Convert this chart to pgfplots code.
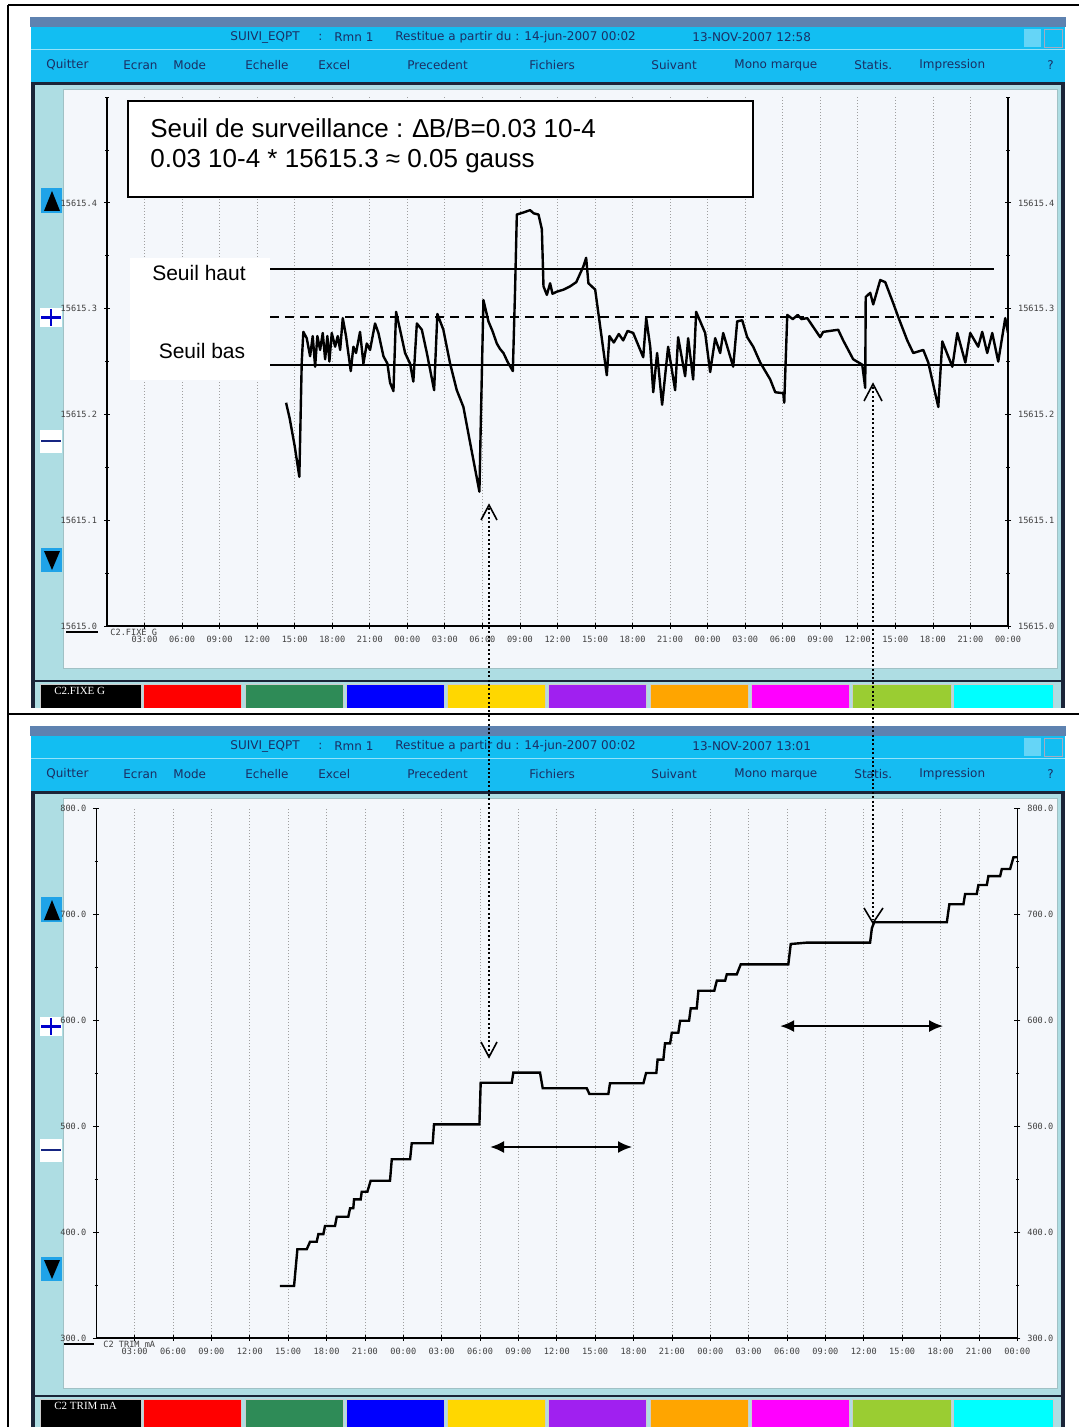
\documentclass[border=0pt]{standalone}
\usepackage{fontspec}
\setmainfont{Liberation Sans}
\setsansfont{DejaVu Sans}
\setmonofont{DejaVu Sans Mono}
\newfontfamily\serifui{Liberation Serif}
\usepackage{pgfplots}
\pgfplotsset{compat=1.18}
\usetikzlibrary{arrows.meta}

\definecolor{winblue}{HTML}{5E82B0}
\definecolor{titlecyan}{HTML}{12BEF2}
\definecolor{menucyan}{HTML}{16BCF2}
\definecolor{navytxt}{HTML}{1B2E63}
\definecolor{panelcyan}{HTML}{AEDDE3}
\definecolor{plotbg}{HTML}{F4F7FB}
\definecolor{btnblue}{HTML}{1FA3E8}
\definecolor{framedark}{HTML}{1A2438}
\definecolor{cbred}{HTML}{FF0000}
\definecolor{cbblue}{HTML}{0000FF}
\definecolor{cbpurple}{HTML}{A020F0}
\definecolor{cbgreen}{HTML}{2E8B57}
\definecolor{cbyellow}{HTML}{FFD700}
\definecolor{cbyg}{HTML}{9ACD32}
\definecolor{cborange}{HTML}{FFA500}
\definecolor{cbmagenta}{HTML}{FF00FF}
\definecolor{cbcyan}{HTML}{00FFFF}

\newcommand{\uifont}{\sffamily\fontsize{6}{7}\selectfont\color{navytxt}}

\newcommand{\header}[1]{%
  \fill[winblue] (30,17) rectangle (1066,27);
  \fill[titlecyan] (31,27) rectangle (1065,49);
  \fill[menucyan] (31,50) rectangle (1065,82);
  \draw[white!55!titlecyan, line width=0.6pt] (31,49.5) -- (1065,49.5);
  \fill[framedark] (31,82) rectangle (1065,85);
  \fill[titlecyan!65!white] (1024,29) rectangle (1041,47);
  \draw[navytxt!40, line width=0.3pt] (1044,29) rectangle (1062,47);
  \node[anchor=west, inner sep=0pt, font=\uifont] at (230,37.5) {SUIVI\_EQPT};
  \node[anchor=west, inner sep=0pt, font=\uifont] at (318,37.5) {:};
  \node[anchor=west, inner sep=0pt, font=\uifont] at (334,37.5) {Rmn 1};
  \node[anchor=west, inner sep=0pt, font=\uifont] at (395,37.5) {Restitue a partir du : 14-jun-2007 00:02};
  \node[anchor=west, inner sep=0pt, font=\uifont] at (692,37.5) {#1};
  \node[anchor=west, inner sep=0pt, font=\uifont] at (46,65) {Quitter};
  \node[anchor=west, inner sep=0pt, font=\uifont] at (123,65) {Ecran};
  \node[anchor=west, inner sep=0pt, font=\uifont] at (173,65) {Mode};
  \node[anchor=west, inner sep=0pt, font=\uifont] at (245,65) {Echelle};
  \node[anchor=west, inner sep=0pt, font=\uifont] at (318,65) {Excel};
  \node[anchor=west, inner sep=0pt, font=\uifont] at (407,65) {Precedent};
  \node[anchor=west, inner sep=0pt, font=\uifont] at (529,65) {Fichiers};
  \node[anchor=west, inner sep=0pt, font=\uifont] at (651,65) {Suivant};
  \node[anchor=west, inner sep=0pt, font=\uifont] at (734,65) {Mono marque};
  \node[anchor=west, inner sep=0pt, font=\uifont] at (854,65) {Statis.};
  \node[anchor=west, inner sep=0pt, font=\uifont] at (919,65) {Impression};
  \node[anchor=west, inner sep=0pt, font=\uifont] at (1047,65) {?};
}

% #1 white bottom, #2 dark line y, #3 colour bar top, #4 colour bar bottom, #5 label
\newcommand{\bodyui}[5]{%
  \fill[panelcyan] (34,85) rectangle (1062,#4);
  \fill[framedark] (31,85) rectangle (35,#4);
  \fill[framedark] (1061,85) rectangle (1065,#4);
  \fill[plotbg] (63,89) rectangle (1057,#1);
  \draw[panelcyan!70!gray, line width=0.4pt] (63,89) rectangle (1057,#1);
  \fill[framedark] (35,#2) rectangle (1061,#2+2);
  \foreach \a/\b/\c in {40/141/black,143/241/cbred,245/343/cbgreen,346/444/cbblue,447/545/cbyellow,548/646/cbpurple,650/748/cborange,751/849/cbmagenta,852/951/cbyg,953/1053/cbcyan}{
    \fill[\c, draw=gray!40, line width=0.4pt] (\a,#3) rectangle (\b,#4);
  }
  \node[anchor=north west, inner sep=0pt, text=white, font=\serifui\fontsize{5.5}{6}\selectfont] at (54,#3+3) {#5};
  % buttons
  \fill[btnblue] (41,188) rectangle (62,213);
  \fill[black] (44,211) -- (52,191) -- (60,211) -- cycle;
  \fill[white] (40,308) rectangle (62,327);
  \draw[blue!80!black, line width=1.3pt] (41,317.5) -- (61,317.5) (51,309) -- (51,326);
  \fill[white] (40,430) rectangle (62,453);
  \draw[navytxt!80!blue, line width=1.3pt] (41,441) -- (61,441);
  \fill[btnblue] (41,548) rectangle (62,572);
  \fill[black] (44,551) -- (60,551) -- (52,570) -- cycle;
}

\pgfplotsset{
  uiaxis/.style={
    scale only axis, anchor=south west,
    xmin=0, xmax=72,
    scaled y ticks=false, scaled x ticks=false,
    tick align=center,
    major tick length=3pt, minor tick length=1.8pt,
    every tick/.style={black, line width=0.4pt},
    tick label style={font=\ttfamily\fontsize{4.3}{5}\selectfont, text=black!75},
    /pgf/number format/assume math mode=true,
    /pgf/number format/fixed,
    /pgf/number format/fixed zerofill,
    /pgf/number format/precision=1,
    /pgf/number format/1000 sep={},
    axis line style={black, line width=0.6pt},
    xtick={3,6,...,72},
    xticklabels={03:00,06:00,09:00,12:00,15:00,18:00,21:00,00:00,03:00,06:00,09:00,12:00,15:00,18:00,21:00,00:00,03:00,06:00,09:00,12:00,15:00,18:00,21:00,00:00},
  },
  uimain/.style={uiaxis, axis x line*=bottom, axis y line*=left,
    xmajorgrids, major grid style={gray!75, dash pattern=on 0.5pt off 1pt, line width=0.4pt}},
  uiright/.style={uiaxis, axis y line*=right, axis x line=none},
}

\begin{document}
\begin{tikzpicture}
\path[use as bounding box] (0,0) rectangle (539.5pt,-713.5pt);

\begin{scope}[x=0.5pt, y=-0.5pt]
  \fill[white] (0,0) rectangle (1079,1427);
  % top window
  \header{13-NOV-2007 12:58}
  \bodyui{668}{680}{684}{708}{C2.FIXE G}
  % bottom window
  \begin{scope}[yshift=-354.5pt]
    \header{13-NOV-2007 13:01}
    \bodyui{679}{686}{690}{718}{C2 TRIM mA}
  \end{scope}
  \fill[white] (0,708) rectangle (1079,726);
  % outer frame
  \draw[black, line width=1pt] (8,5) -- (1079,5);
  \draw[black, line width=1pt] (8,5) -- (8,1427);
  \draw[black, line width=1pt] (8,714) -- (1079,714);
\end{scope}

% ---------- TOP : C2.FIXE G ----------
\begin{axis}[uimain, at={(53.5pt,-313pt)}, width=450.5pt, height=264.5pt,
  ymin=15615, ymax=15615.5,
  ytick={15615,15615.1,15615.2,15615.3,15615.4},
  minor ytick={15615.05,15615.15,15615.25,15615.35,15615.45,15615.5}]
  \addplot[black, line width=1pt] coordinates {(13.03,15615.337) (70.9,15615.337)};
  \addplot[black, line width=0.9pt, dash pattern=on 4.5pt off 3pt] coordinates {(13.03,15615.292) (70.9,15615.292)};
  \addplot[black, line width=1pt] coordinates {(13.03,15615.247) (70.9,15615.247)};
  \addplot[black, line width=1.2pt, line join=round] coordinates {
(14.31,15615.211) (14.6,15615.196) (15.0,15615.170) (15.37,15615.141) (15.56,15615.249) (15.69,15615.278) (15.96,15615.272)
(16.23,15615.255) (16.44,15615.274) (16.63,15615.245) (16.81,15615.274) (17.03,15615.261)
(17.24,15615.277) (17.43,15615.252) (17.61,15615.274) (17.77,15615.250) (17.96,15615.277)
(18.23,15615.264) (18.44,15615.274) (18.63,15615.261) (18.84,15615.291) (19.10,15615.274)
(19.48,15615.241) (19.69,15615.264) (19.90,15615.258) (20.22,15615.278) (20.49,15615.248)
(20.76,15615.267) (21.02,15615.261) (21.42,15615.286) (21.69,15615.277) (22.09,15615.255)
(22.41,15615.248) (22.62,15615.230) (22.89,15615.222) (23.10,15615.297) (23.42,15615.280)
(23.82,15615.258) (24.22,15615.248) (24.48,15615.231) (24.76,15615.286) (25.16,15615.280)
(25.56,15615.258) (26.14,15615.223) (26.40,15615.295) (26.88,15615.280) (27.42,15615.248)
(27.95,15615.223) (28.48,15615.207) (29.02,15615.173) (29.76,15615.127) (29.87,15615.192)
(30.08,15615.308) (30.48,15615.288) (30.8,15615.279) (31.15,15615.267) (31.4,15615.262) (31.68,15615.258) (32.0,15615.250) (32.43,15615.241)
(32.61,15615.318) (32.75,15615.389) (33.3,15615.391) (33.81,15615.393) (34.1,15615.390) (34.48,15615.389) (34.75,15615.375)
(34.88,15615.321) (35.15,15615.313) (35.41,15615.324) (35.6,15615.314) (35.95,15615.316) (36.5,15615.318) (37.01,15615.321)
(37.5,15615.325) (38.07,15615.340) (38.29,15615.348) (38.47,15615.324) (39.01,15615.318) (39.94,15615.237)
(40.15,15615.274) (40.5,15615.268) (40.9,15615.276) (41.25,15615.270) (41.6,15615.279) (42.05,15615.277) (42.85,15615.254) (43.09,15615.291)
(43.41,15615.264) (43.65,15615.221) (43.96,15615.258) (44.36,15615.209) (44.84,15615.264)
(45.40,15615.223) (45.64,15615.273) (46.20,15615.236) (46.44,15615.272) (46.84,15615.233)
(47.08,15615.297) (47.80,15615.277) (48.20,15615.240) (48.60,15615.272) (49.00,15615.258)
(49.24,15615.277) (50.04,15615.245) (50.36,15615.288) (50.76,15615.289) (51.16,15615.273)
(51.64,15615.264) (52.20,15615.249) (53.00,15615.233) (53.40,15615.221) (54.04,15615.220)
(54.12,15615.211) (54.36,15615.294) (54.8,15615.290) (55.2,15615.294) (55.5,15615.290) (55.96,15615.291) (56.99,15615.273) (57.23,15615.278)
(58.43,15615.280) (58.83,15615.270) (59.63,15615.252) (60.35,15615.247) (60.59,15615.225)
(60.63,15615.311) (60.99,15615.315) (61.23,15615.304) (61.79,15615.327) (62.19,15615.325)
(62.83,15615.305) (63.23,15615.292) (63.95,15615.270) (64.43,15615.258) (65.23,15615.261)
(65.63,15615.249) (66.43,15615.207) (66.75,15615.269) (67.55,15615.245) (67.95,15615.277)
(68.59,15615.249) (68.98,15615.277) (69.62,15615.264) (69.94,15615.278) (70.34,15615.258)
(70.74,15615.277) (71.22,15615.250) (71.78,15615.291) (72.00,15615.277)};
\end{axis}
\begin{axis}[uiright, at={(53.5pt,-313pt)}, width=450.5pt, height=264.5pt,
  ymin=15615, ymax=15615.5,
  ytick={15615,15615.1,15615.2,15615.3,15615.4},
  minor ytick={15615.05,15615.15,15615.25,15615.35,15615.45,15615.5}]
  \addplot[draw=none] coordinates {(0,15615.2)};
\end{axis}

% ---------- BOTTOM : C2 TRIM mA ----------
\begin{axis}[uimain, at={(48.15pt,-669pt)}, width=460.5pt, height=265pt,
  ymin=300, ymax=800,
  ytick={300,400,500,600,700,800},
  minor ytick={350,450,550,650,750}]
  \addplot[black, line width=1.2pt] coordinates {
(14.36,349.1) (15.46,349.1) (15.72,383.7) (16.45,383.7) (16.71,390.8) (17.23,390.8)
(17.36,398.0) (17.75,398.0) (17.88,405.7) (18.66,405.7) (18.80,414.4) (19.70,414.4)
(19.84,422.4) (20.09,422.4) (20.15,430.8) (20.67,430.8) (20.75,438.0) (21.19,438.0)
(21.45,448.4) (22.96,448.4) (23.10,468.6) (24.53,468.6) (24.66,483.7) (26.30,483.7)
(26.40,501.6) (29.95,501.6) (30.05,540.8) (32.48,540.8) (32.60,550.3) (34.69,550.3)
(34.90,535.6) (38.34,535.6) (38.55,530.2) (40.03,530.2) (40.16,540.3) (42.77,540.3)
(42.98,550.0) (43.78,550.0) (43.88,562.6) (44.33,562.6) (44.46,578.0) (44.86,578.0)
(44.99,588.0) (45.50,588.0) (45.64,599.3) (46.34,599.3) (46.47,611.0) (46.94,611.0)
(47.07,627.6) (48.31,627.6) (48.51,637.1) (49.16,637.1) (49.29,643.1) (50.07,643.1)
(50.38,652.5) (54.10,652.5) (54.29,671.7) (55.54,673.0) (60.49,673.0) (60.63,686.5)
(60.81,692.2) (66.49,692.2) (66.69,709.2) (67.79,709.2) (67.92,718.9) (68.83,718.9)
(68.96,727.4) (69.62,727.4) (69.74,735.8) (70.66,735.8) (70.79,742.5) (71.44,742.5)
(71.70,753.5) (72.00,753.5)};
  \draw[{Latex[length=7pt,width=6pt]}-{Latex[length=7pt,width=6pt]}, line width=1pt] (axis cs:30.78,480.2) -- (axis cs:41.88,480.2);
  \draw[{Latex[length=7pt,width=6pt]}-{Latex[length=7pt,width=6pt]}, line width=1pt] (axis cs:53.46,594.3) -- (axis cs:66.2,594.3);
\end{axis}
\begin{axis}[uiright, at={(48.15pt,-669pt)}, width=460.5pt, height=265pt,
  ymin=300, ymax=800,
  ytick={300,400,500,600,700,800},
  minor ytick={350,450,550,650,750}]
  \addplot[draw=none] coordinates {(0,500)};
\end{axis}

% ---------- overlays ----------
\begin{scope}[x=0.5pt, y=-0.5pt]
  % axis-side labels
  \draw[black, line width=1.2pt] (66,632) -- (98,632);
  \draw[black, line width=1.2pt] (64,1344) -- (94,1344);
  \node[anchor=west, inner sep=0pt, text=black!75, font=\ttfamily\fontsize{4.3}{5}\selectfont] at (110,632) {C2.FIXE G};
  \node[anchor=west, inner sep=0pt, text=black!75, font=\ttfamily\fontsize{4.3}{5}\selectfont] at (103,1344) {C2 TRIM mA};
  % threshold labels
  \fill[white] (130,258) rectangle (270,380);
  \node[anchor=base, inner sep=0pt, font=\fontsize{10.5}{12}\selectfont] at (199,281) {Seuil haut};
  \node[anchor=base, inner sep=0pt, font=\fontsize{10.5}{12}\selectfont] at (202,359) {Seuil bas};
  % annotation box
  \draw[black, line width=1pt, fill=white] (128,101) rectangle (753,197);
  \node[anchor=base west, inner sep=0pt, font=\fontsize{13}{15}\selectfont] at (150,138) {Seuil de surveillance : ∆B/B=0.03 10-4};
  \node[anchor=base west, inner sep=0pt, font=\fontsize{13}{15}\selectfont] at (150,168) {0.03 10-4 * 15615.3 ≈ 0.05 gauss};
  % cross-panel dotted links
  \draw[black, line width=1pt, dash pattern=on 1pt off 1.2pt] (489,508) -- (489,1054);
  \draw[black, line width=0.8pt] (481,520) -- (489,505) -- (497,520);
  \draw[black, line width=0.8pt] (481,1042) -- (489,1057) -- (497,1042);
  \draw[black, line width=1pt, dash pattern=on 1pt off 1.2pt] (873,387) -- (873,920);
  \draw[black, line width=0.8pt] (864,401) -- (873,384) -- (882,401);
  \draw[black, line width=0.8pt] (864,908) -- (873,923) -- (883,908);
\end{scope}
\end{tikzpicture}
\end{document}
